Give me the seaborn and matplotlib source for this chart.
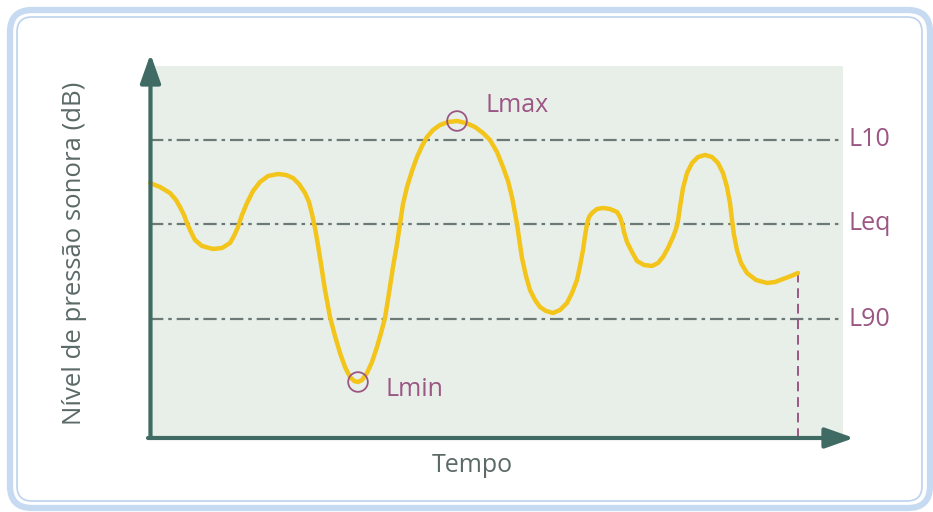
import matplotlib
matplotlib.use("Agg")
import matplotlib.pyplot as plt
from matplotlib.patches import FancyBboxPatch
import numpy as np
import seaborn as sns

# Sound pressure level over time (arbitrary units: time along x, level along y)
tempo = [2, 12, 22, 28, 32, 36, 39, 43, 47, 54, 65, 74, 82, 86, 90, 94, 99,
         105, 112, 120, 130, 138, 145, 151, 157, 161, 164, 167, 170, 173, 177,
         182, 187, 192, 197, 202, 206, 210, 214, 219, 224, 229, 233, 237, 241,
         245, 249, 252, 255, 259, 264, 269, 274, 279, 285, 292, 300, 309, 318,
         327, 335, 342, 349, 355, 360, 364, 367, 369, 371, 374, 378, 382, 387,
         392, 398, 405, 412, 419, 424, 429, 432, 435, 437, 439, 441, 444, 449,
         455, 462, 469, 472, 474, 476, 479, 484, 489, 496, 504, 510, 515, 520,
         525, 528, 530, 532, 535, 539, 544, 550, 557, 564, 570, 575, 579, 582,
         584, 586, 589, 593, 599, 608, 619, 627, 635, 643, 650]
nivel = [255, 251, 245, 238, 231, 223, 215, 206, 198, 192, 189, 190, 195, 202,
         211, 223, 235, 247, 256, 262, 264, 263, 260, 254, 245, 236, 224, 210,
         193, 174, 148, 121, 102, 85, 71, 61, 57, 56, 58, 65, 76, 91, 105, 120,
         145, 171, 194, 214, 234, 251, 267, 281, 292, 301, 308, 313, 316, 317,
         315, 311, 305, 298, 286, 271, 257, 241, 225, 214, 200, 180, 162, 148,
         138, 131, 127, 125, 128, 135, 145, 158, 172, 188, 202, 214, 221, 225,
         229, 230, 229, 226, 221, 215, 206, 196, 186, 177, 173, 172, 175, 181,
         190, 201, 209, 217, 231, 250, 265, 275, 281, 283, 281, 275, 265, 251,
         235, 218, 203, 188, 175, 165, 158, 155, 156, 159, 162, 165]

# Statistical levels
niveis_ref = ["L10", "Leq", "L90"]
valores_ref = [298, 214, 119]

W, H, DPI = 933, 512, 100
curve_col = "#f3c41a"
axis_col = "#3f6b64"
mauve = "#9b5684"
grid_col = "#6b7a76"
shade = "#e8efe8"
text_col = "#5b6a67"

sns.set_theme(style="white")
plt.rcParams["font.family"] = ["Open Sans", "DejaVu Sans"]

fig = plt.figure(figsize=(W / DPI, H / DPI), dpi=DPI, facecolor="white")

# Rounded double frame around the whole figure (pixel coordinates)
bg = fig.add_axes([0, 0, 1, 1], zorder=0)
bg.set_xlim(0, W)
bg.set_ylim(H, 0)
bg.axis("off")
bg.add_patch(FancyBboxPatch((10, 10), 920, 498,
                            boxstyle="round,pad=0,rounding_size=22",
                            fill=False, ec="#c6daf2", lw=4.5))
bg.add_patch(FancyBboxPatch((17, 17), 905, 484,
                            boxstyle="round,pad=0,rounding_size=15",
                            fill=False, ec="#bcd2ee", lw=1.2))

# Main plotting area
x0, y0, x1, y1 = 148, 66, 843, 438
ax = fig.add_axes([x0 / W, (H - y1) / H, (x1 - x0) / W, (y1 - y0) / H], zorder=1)
ax.set_facecolor(shade)
ax.set_xlim(0, x1 - x0)
ax.set_ylim(0, y1 - y0)
for s in ax.spines.values():
    s.set_visible(False)
ax.set_xticks([])
ax.set_yticks([])

# Reference level lines and labels
for nome, v in zip(niveis_ref, valores_ref):
    ax.plot([2, 695], [v, v], color=grid_col, lw=1.6,
            linestyle=(0, (6, 2.2, 1.6, 2.2)), zorder=2)
    ax.text(700, v, nome, color=mauve, fontsize=18, va="center", ha="left",
            clip_on=False)

# Level curve
sns.lineplot(x=tempo, y=nivel, sort=False, estimator=None, ax=ax,
             color=curve_col, lw=3.2, zorder=4,
             solid_joinstyle="round", solid_capstyle="round")

# End-of-measurement marker
ax.plot([tempo[-1], tempo[-1]], [0, nivel[-1]], color=mauve, lw=1.4,
        linestyle=(0, (5, 3)), zorder=3)

# Maximum and minimum markers
imax = int(np.argmax(nivel))
imin = int(np.argmin(nivel))
ax.scatter([tempo[imax], tempo[imin]], [nivel[imax], nivel[imin]], s=200,
           facecolors="none", edgecolors=mauve, linewidths=1.3, zorder=5,
           clip_on=False)
ax.text(tempo[imax] + 28, nivel[imax] + 15, "Lmax", color=mauve, fontsize=18,
        va="center", ha="left")
ax.text(tempo[imin] + 27, nivel[imin] - 8, "Lmin", color=mauve, fontsize=18,
        va="center", ha="left")

# Axis arrows
arrow = dict(arrowstyle="-|>,head_length=1.75,head_width=0.62",
             mutation_scale=10, color=axis_col, lw=3, shrinkA=0, shrinkB=0)
ax.annotate("", xy=(2.5, 384), xytext=(2.5, 0), arrowprops=arrow,
            annotation_clip=False, zorder=6)
ax.annotate("", xy=(706, 0), xytext=(0, 0), arrowprops=arrow,
            annotation_clip=False, zorder=6)

# Axis titles
fig.text(472 / W, 1 - 465 / H, "Tempo", color=text_col, fontsize=18,
         ha="center", va="center")
fig.text(75 / W, 1 - 253 / H, "Nível de pressão sonora (dB)", color=text_col,
         fontsize=18.5, ha="center", va="center", rotation=90)

fig.savefig("out.png", dpi=DPI, facecolor="white")
